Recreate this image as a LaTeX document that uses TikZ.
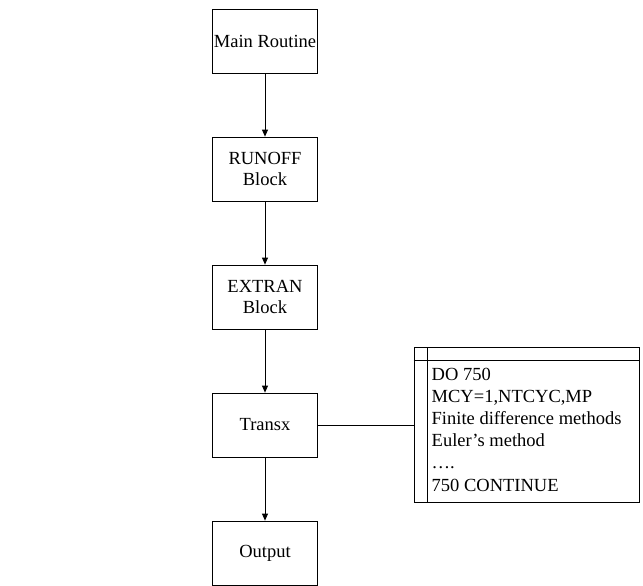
\documentclass[tikz,border=0pt]{standalone}
\usepackage{fontspec}
\setmainfont{Liberation Serif}
\usetikzlibrary{arrows.meta}
\begin{document}
\begin{tikzpicture}[x=1pt,y=-1pt,
  blk/.style={draw,line width=0.8pt,minimum width=105pt,minimum height=64pt,
    align=center,inner sep=0pt,font=\fontsize{18.5}{21.5}\selectfont},
  flow/.style={draw,line width=0.8pt,-{Triangle[length=7pt,width=6pt]}},
  link/.style={draw,line width=0.8pt}]
\useasboundingbox (0,0) rectangle (643,586);
% main chain of routines
\node[blk] (main) at (265,41) {Main Routine};
\node[blk] (runoff) at (265,169) {RUNOFF\\Block};
\node[blk] (extran) at (265,297) {EXTRAN\\Block};
\node[blk] (transx) at (265,425) {Transx};
\node[blk] (output) at (265,553) {Output};
\draw[flow] (main) -- (runoff);
\draw[flow] (runoff) -- (extran);
\draw[flow] (extran) -- (transx);
\draw[flow] (transx) -- (output);
% loop listing box
\node[draw,line width=0.8pt,minimum width=225pt,minimum height=155pt,inner sep=0pt]
  (loop) at (526.5,425) {};
\coordinate (bartop) at (414,360.5);
\draw[link] (loop.west |- bartop) -- (loop.east |- bartop);
\draw[link] (427.5,347.5) coordinate (sepN) -- (427.5,502.5) coordinate (sepS);
\node[anchor=north west,align=left,inner sep=0pt,font=\fontsize{18.5}{22.2}\selectfont]
  (code) at (431.5,367.5) {DO 750\\MCY=1,NTCYC,MP\\Finite difference methods\\Euler’s method\\….\\750 CONTINUE};
\draw[link] (transx.east) -- (transx.east -| loop.west);
\end{tikzpicture}
\end{document}
